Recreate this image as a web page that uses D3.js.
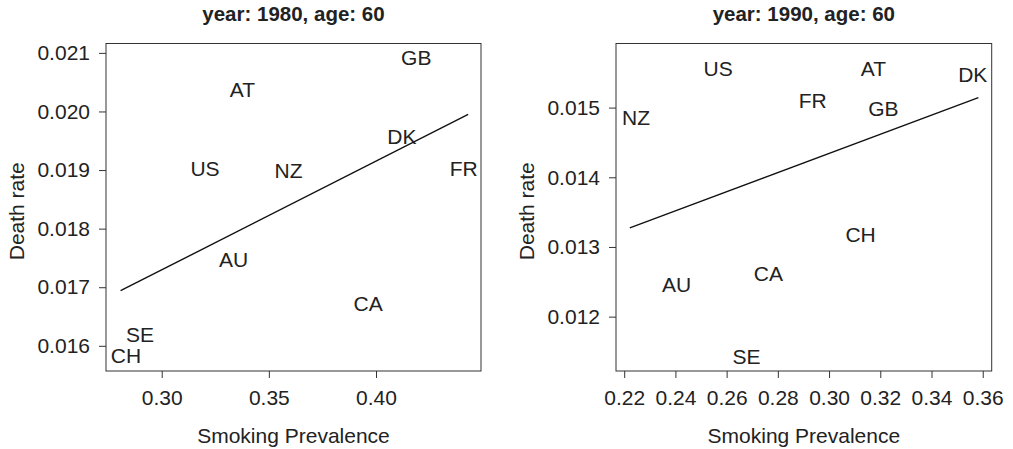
<!DOCTYPE html>
<html>
<head>
<meta charset="utf-8">
<script src="https://cdn.jsdelivr.net/npm/d3@7"></script>
<style>
  body { margin: 0; background: #fff; }
  svg text { font-family: "Liberation Sans", Arial, Helvetica, sans-serif; fill: #222; }
  .title { font-weight: bold; }
</style>
</head>
<body>
<div id="chart"></div>
<script>
// ---- data ----
var countries1980 = ["GB", "AT", "DK", "US", "NZ", "FR", "AU", "CA", "SE", "CH"];
var smoking1980 = [0.4188, 0.3377, 0.4121, 0.3202, 0.3592, 0.4409, 0.3335, 0.3963, 0.2899, 0.2833];
var death1980 = [0.02093, 0.02038, 0.01958, 0.01902, 0.01899, 0.01902, 0.01747, 0.01672, 0.01620, 0.01583];
var fitX1980 = [0.2808, 0.4430];
var fitY1980 = [0.01694, 0.01995];

var countries1990 = ["US", "AT", "DK", "FR", "GB", "NZ", "CH", "CA", "AU", "SE"];
var smoking1990 = [0.2567, 0.3173, 0.3561, 0.2936, 0.3212, 0.2246, 0.3123, 0.2763, 0.2405, 0.2678];
var death1990 = [0.015565, 0.015565, 0.015483, 0.015100, 0.014986, 0.014862, 0.013174, 0.012624, 0.012456, 0.011428];
var fitX1990 = [0.2222, 0.3583];
var fitY1990 = [0.013274, 0.015143];

var xTicks1980 = [0.30, 0.35, 0.40];
var yTicks1980 = [0.016, 0.017, 0.018, 0.019, 0.020, 0.021];
var xTicks1990 = [0.22, 0.24, 0.26, 0.28, 0.30, 0.32, 0.34, 0.36];
var yTicks1990 = [0.012, 0.013, 0.014, 0.015];

var xRange1980 = [0.274, 0.449];
var yRange1980 = [0.01557, 0.02116];
var xRange1990 = [0.2168, 0.3635];
var yRange1990 = [0.01122, 0.01592];

var svg = d3.select("#chart").append("svg")
  .attr("width", 1013)
  .attr("height", 449);

function drawPanel(params) {
  var attrs = Object.assign({
    left: 0,
    top: 43.5,
    width: 375,
    height: 327.5,
    fontSize: 21
  }, params);

  var g = svg.append("g")
    .attr("transform", `translate(${attrs.left}, ${attrs.top})`);

  var x = d3.scaleLinear().domain(attrs.xDomain).range([0, attrs.width]);
  var y = d3.scaleLinear().domain(attrs.yDomain).range([attrs.height, 0]);

  // title
  g.append("text")
    .attr("class", "title")
    .attr("x", attrs.width / 2)
    .attr("y", -23)
    .attr("text-anchor", "middle")
    .style("font-size", "20.5px")
    .text(attrs.title);

  // axes
  var xAxis = g.append("g")
    .attr("transform", `translate(0, ${attrs.height})`)
    .call(d3.axisBottom(x).tickValues(attrs.xTicks).tickFormat(d3.format(".2f")).tickSize(7).tickSizeOuter(0));

  var yAxis = g.append("g")
    .call(d3.axisLeft(y).tickValues(attrs.yTicks).tickFormat(d3.format(".3f")).tickSize(7).tickSizeOuter(0));

  [xAxis, yAxis].forEach(function (a) {
    a.select(".domain").remove();
    a.selectAll(".tick line").attr("stroke", "#333").attr("stroke-width", 1);
    a.selectAll(".tick text")
      .style("font-size", attrs.fontSize + "px")
      .attr("fill", "#222");
  });
  xAxis.selectAll(".tick text").attr("y", 19).attr("dy", "0.71em");
  yAxis.selectAll(".tick text").attr("x", -16);

  // box
  g.append("rect")
    .attr("width", attrs.width)
    .attr("height", attrs.height)
    .attr("fill", "none")
    .attr("stroke", "#333")
    .attr("stroke-width", 1);

  // axis titles
  g.append("text")
    .attr("x", attrs.width / 2)
    .attr("y", attrs.height + 72)
    .attr("text-anchor", "middle")
    .style("font-size", attrs.fontSize + "px")
    .text("Smoking Prevalence");

  g.append("text")
    .attr("transform", `translate(${-attrs.left + attrs.yTitleX}, ${attrs.height / 2 + 4}) rotate(-90)`)
    .attr("text-anchor", "middle")
    .style("font-size", attrs.fontSize + "px")
    .text("Death rate");

  // fitted line
  var line = d3.line().x(function (d) { return x(d[0]); }).y(function (d) { return y(d[1]); });
  g.append("path")
    .datum(d3.zip(attrs.fitX, attrs.fitY))
    .attr("d", line)
    .attr("fill", "none")
    .attr("stroke", "#111")
    .attr("stroke-width", 1.4);

  // country labels
  g.selectAll(".country")
    .data(d3.range(attrs.labels.length))
    .join("text")
    .attr("class", "country")
    .attr("x", function (i) { return x(attrs.xs[i]); })
    .attr("y", function (i) { return y(attrs.ys[i]); })
    .attr("dy", "0.36em")
    .attr("text-anchor", "middle")
    .style("font-size", attrs.fontSize + "px")
    .text(function (i) { return attrs.labels[i]; });
}

drawPanel({
  left: 106,
  width: 375,
  yTitleX: 24,
  title: "year: 1980, age: 60",
  xDomain: xRange1980,
  yDomain: yRange1980,
  xTicks: xTicks1980,
  yTicks: yTicks1980,
  labels: countries1980,
  xs: smoking1980,
  ys: death1980,
  fitX: fitX1980,
  fitY: fitY1980
});

drawPanel({
  left: 616,
  width: 375.7,
  yTitleX: 534,
  title: "year: 1990, age: 60",
  xDomain: xRange1990,
  yDomain: yRange1990,
  xTicks: xTicks1990,
  yTicks: yTicks1990,
  labels: countries1990,
  xs: smoking1990,
  ys: death1990,
  fitX: fitX1990,
  fitY: fitY1990
});
</script>
</body>
</html>
